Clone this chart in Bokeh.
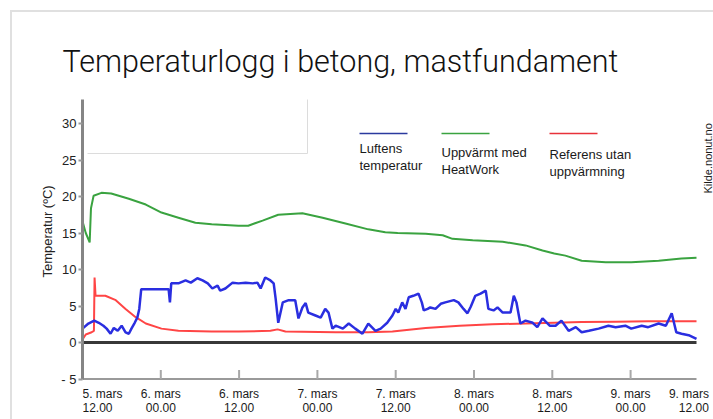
import math
from bokeh.plotting import figure
from bokeh.models import Range1d, FixedTicker, Title
from bokeh.core.properties import value
from bokeh.embed import file_html
from bokeh.resources import INLINE

# ---------------- data ----------------
title_text = "Temperaturlogg i betong, mastfundament"
y_label = "Temperatur (ºC)"
source_note = "Kilde.nonut.no"

# x = hours after 5. mars 12.00
tick_hours = [0, 12, 24, 36, 48, 60, 72, 84, 96]
tick_labels = ["5. mars\n12.00", "6. mars\n00.00", "6. mars\n12.00", "7. mars\n00.00",
               "7. mars\n12.00", "8. mars\n00.00", "8. mars\n12.00", "9. mars\n00.00",
               "9. mars\n12.00"]
y_ticks = [-5, 0, 5, 10, 15, 20, 25, 30]

series_names = ["Luftens\ntemperatur", "Uppvärmt med\nHeatWork", "Referens utan\nuppvärmning"]

air_hours = [0.0, 0.9, 1.8, 2.5, 3.2, 3.7, 4.3, 4.8, 5.4, 6.0, 6.6, 7.1, 7.5, 8.0, 8.4, 8.7,
             9.0, 13.2, 13.4, 13.6, 14.7, 15.8, 16.6, 17.6, 18.4, 19.2, 19.9, 20.7, 21.1, 21.9,
             23.0, 23.9, 25.0, 26.1, 26.8, 27.3, 28.0, 28.8, 29.3, 29.6, 30.0, 30.7,
             31.6, 32.6, 33.1, 33.7, 34.2, 34.6, 35.7, 36.5, 37.2, 37.7, 38.3, 38.8, 39.9,
             40.8, 41.8, 42.9, 43.8, 44.9,
             45.7, 46.7, 47.5, 48.0, 48.4, 49.0, 49.5, 50.0, 50.7, 51.5, 52.0, 52.3, 52.9,
             53.3, 54.1, 54.9, 55.6, 56.9, 57.6, 58.4, 59.0, 59.5, 60.2, 61.0, 61.8, 62.2,
             63.0, 63.6, 64.4, 65.6, 66.1, 66.5, 67.1, 67.9,
             69.0, 69.7, 70.5, 71.6, 72.5, 73.4, 74.5, 75.6, 76.5, 77.6, 79.1, 80.6, 81.7,
             83.2, 84.1, 85.7, 86.7, 88.3, 89.4, 90.3, 91.0, 91.8, 92.9, 94.1]
air_temp = [1.9, 2.6, 3.0, 2.7, 2.3, 1.9, 1.2, 2.0, 1.6, 2.3, 1.4, 1.2, 1.9, 2.7, 3.4, 4.6,
            7.3, 7.3, 5.5, 8.1, 8.1, 8.5, 8.2, 8.8, 8.5, 8.1, 7.4, 7.8, 7.1, 7.4,
            8.2, 8.1, 8.2, 8.1, 8.2, 7.4, 8.9, 8.5, 8.1, 6.0, 2.7, 5.5,
            5.8, 5.8, 3.3, 4.8, 5.4, 4.1, 3.7, 3.4, 4.6, 4.1, 1.9, 2.3, 1.9,
            2.6, 1.9, 1.2, 2.6, 1.6,
            1.9, 2.7, 3.7, 4.6, 4.1, 5.5, 4.6, 6.2, 6.4, 6.7, 5.5, 4.4, 4.6,
            4.8, 4.6, 5.3, 5.5, 5.8, 5.5, 4.6, 4.0, 4.9, 6.4, 6.7, 7.1, 4.6,
            4.4, 4.8, 4.1, 4.1, 6.4, 5.5, 2.6, 3.0,
            2.7, 2.1, 3.3, 2.3, 2.3, 3.0, 1.6, 2.1, 1.4, 1.6, 1.9, 2.3, 2.1,
            2.3, 1.9, 2.3, 2.1, 2.6, 2.3, 4.0, 1.4, 1.2, 1.0, 0.5]

heat_hours = [0.0, 0.5, 1.1, 1.3, 1.7, 2.9, 4.4, 7.1, 9.7, 12.1, 14.7, 17.3, 19.8, 23.9, 25.4,
              27.6, 30.0, 33.7, 36.8, 40.3, 43.8, 46.4, 48.3, 52.6, 55.2, 56.7, 59.8, 64.4,
              67.9, 70.5, 72.3, 74.0, 76.5, 80.2, 84.1, 88.3, 91.8, 94.1]
heat_temp = [16.6, 15.0, 13.7, 18.4, 20.1, 20.5, 20.4, 19.7, 18.9, 17.8, 17.1, 16.4, 16.2, 16.0,
             16.0, 16.7, 17.5, 17.7, 17.1, 16.3, 15.5, 15.1, 15.0, 14.9, 14.7, 14.2, 14.0, 13.8,
             13.3, 12.6, 12.2, 11.9, 11.2, 11.0, 11.0, 11.2, 11.5, 11.6]

ref_hours = [0.0, 0.5, 1.4, 1.75, 1.85, 2.0, 2.5, 3.5, 5.1, 6.6, 8.1, 9.7, 12.1, 14.7, 19.8,
             23.9, 28.8, 29.9, 31.1, 38.8, 43.8, 47.5, 52.6, 57.8, 62.8, 67.9, 72.3, 76.5,
             81.7, 86.7, 94.1]
ref_temp = [0.4, 1.1, 1.4, 1.6, 8.9, 6.4, 6.4, 6.4, 5.8, 4.6, 3.5, 2.6, 1.9, 1.6, 1.5,
            1.5, 1.6, 1.8, 1.5, 1.4, 1.4, 1.5, 2.0, 2.3, 2.5, 2.6, 2.7, 2.8,
            2.85, 2.9, 2.9]

# ---------------- layout ----------------
W, H = 713, 419
FL, FT = 82, 90            # frame left / top (pixels)
PX_H, PX_C = 6.525, 7.3    # pixels per hour / per degree
ZERO_Y = 342               # pixel y of 0 degC


def X(px):   # pixel x -> hours
    return (px - FL) / PX_H


def Y(py):   # pixel y -> degC
    return (ZERO_Y - py) / PX_C


x_end = max(air_hours)

p = figure(width=W, height=H, output_backend="svg", toolbar_location=None,
           x_range=Range1d(X(FL), X(W)), y_range=Range1d(Y(H), Y(FT)),
           x_axis_location=None, y_axis_location="left",
           min_border_left=FL, min_border_top=FT, min_border_right=0, min_border_bottom=0,
           background_fill_color="white", border_fill_color=None, outline_line_color=None)
p.grid.visible = False
p.styles = {"box-shadow": "inset 10px 10px 0 0 #ffffff, inset 12px 12px 0 0 #e0e0e0"}

# title
p.title.text = title_text
p.title.text_font = "Roboto Light, Roboto, sans-serif"
p.title.text_font_size = "30.5px"
p.title.text_font_style = "normal"
p.title.text_color = "#111111"
p.title.align = "left"
p.title.offset = -20
p.title.standoff = 24

# y axis
ax = p.yaxis[0]
ax.ticker = FixedTicker(ticks=y_ticks)
ax.major_label_overrides = {-5: "- 5"}
ax.bounds = (-5, Y(99))
ax.axis_line_color = "#858585"
ax.axis_line_width = 3
ax.major_tick_out = 4
ax.major_tick_in = 0
ax.major_tick_line_color = "#999999"
ax.major_tick_line_width = 2
ax.minor_tick_line_color = None
ax.major_label_standoff = 2
ax.major_label_text_font = "Liberation Sans"
ax.major_label_text_font_size = "13px"
ax.major_label_text_color = "#222222"

# y-axis title as a side title, placed along the drawn axis
ytitle = Title(text=y_label, align="left", offset=H - 277, standoff=8,
               text_font="Liberation Sans", text_font_size="13px",
               text_font_style="normal", text_color="#222222")
p.add_layout(ytitle, "left")

# decorative empty box (upper left)
p.line([X(87), X(307), X(307)], [Y(153), Y(153), Y(99)],
       line_color="#dcdcdc", line_width=1)

# x axis (at -5) drawn in the plot area
p.segment(x0=[0], y0=[-5], x1=[x_end], y1=[-5], line_color="#9a9a9a", line_width=2)
inner = tick_hours[1:-1]
p.segment(x0=inner, y0=[-5] * len(inner), x1=inner, y1=[-5 + 9 / PX_C] * len(inner),
          line_color="#a8a8a8", line_width=2)
lab_font = value("Liberation Sans Narrow, Arial Narrow, Liberation Sans, sans-serif")
lab_y = Y(386)
common = dict(text_font=lab_font, text_font_size="12px", text_color="#1a1a1a",
              text_baseline="top", text_line_height=1.0)
p.text(x=tick_hours[:1], y=[lab_y], text=tick_labels[:1], text_align="left", **common)
p.text(x=tick_hours[1:-1], y=[lab_y] * len(inner), text=tick_labels[1:-1],
       text_align="center", **common)
p.text(x=tick_hours[-1:], y=[lab_y], text=tick_labels[-1:], text_align="right", **common)

# zero line
p.segment(x0=[0], y0=[0], x1=[x_end], y1=[0], line_color="#383838", line_width=3)

# series
p.line(heat_hours, heat_temp, line_color="#3aa340", line_width=2)
p.line(ref_hours, ref_temp, line_color="#ff4545", line_width=2)
p.line(air_hours, air_temp, line_color="#2a2ee0", line_width=2.5)

# legend (custom)
leg_colors = ["#2b3a9e", "#3aa340", "#e8323a"]
leg_x0 = [359, 441, 549]
leg_text_top = [140, 144, 146]
for name, col, lx, ty in zip(series_names, leg_colors, leg_x0, leg_text_top):
    p.segment(x0=[X(lx)], y0=[Y(133)], x1=[X(lx + 48)], y1=[Y(133)],
              line_color=col, line_width=1.5)
    p.text(x=[X(lx)], y=[Y(ty)], text=[name], text_font=value("Liberation Sans"),
           text_font_size="13px", text_color="#1a1a1a", text_baseline="top",
           text_align="left", text_line_height=1.15)

# source note
p.text(x=[X(707)], y=[Y(193)], text=[source_note], angle=math.pi / 2,
       text_font=value("Liberation Sans"), text_font_size="11px", text_color="#1a1a1a",
       text_align="left", text_baseline="middle")

open("out.html", "w").write(file_html(p, INLINE))
